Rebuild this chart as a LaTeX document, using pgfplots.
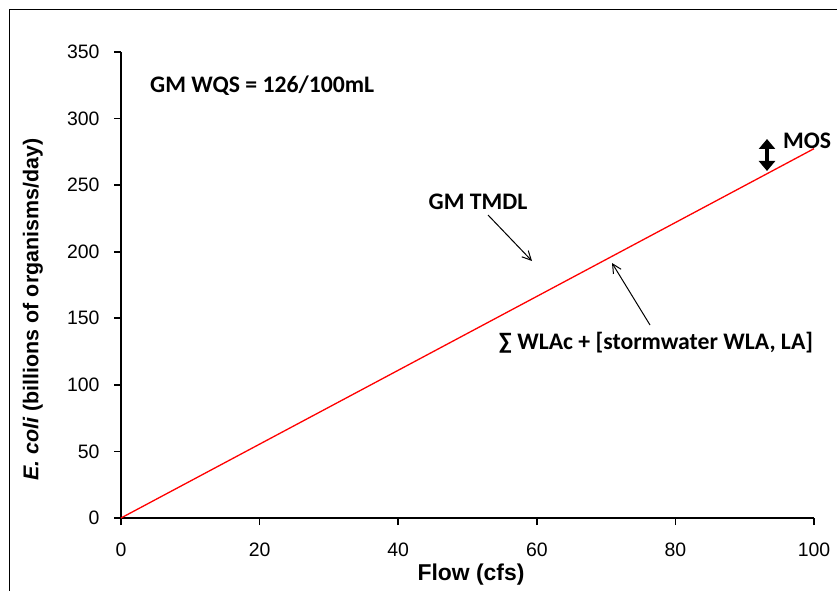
\documentclass[border=0pt]{standalone}
\usepackage{fontspec}
\setmainfont{Liberation Sans}
\newfontfamily\calib{Carlito}
\usepackage{pgfplots}
\pgfplotsset{compat=1.18}
\usetikzlibrary{arrows.meta}
\begin{document}
\begin{tikzpicture}[x=1bp,y=1bp]
\useasboundingbox (0,0) rectangle (837,-591);
\draw[line width=1.2bp] (9.5,-591) -- (9.5,-9.5) -- (837,-9.5);
\begin{axis}[
  at={(121bp,-518bp)}, anchor=origin,
  scale only axis, width=693bp, height=466bp,
  xmin=0, xmax=100, ymin=0, ymax=350,
  axis x line=bottom, axis y line=left,
  axis line style={-, line width=1.6bp},
  tick style={line width=1.6bp, black},
  tick align=outside, major tick length=7bp,
  xtick={0,20,...,100}, ytick={0,50,...,350},
  /pgf/number format/assume math mode=true,
  ticklabel style={font=\fontsize{19.5}{22}\selectfont},
  xticklabel style={yshift=-14bp},
  yticklabel style={xshift=-11bp},
  xlabel={\textbf{Flow (cfs)}},
  ylabel={\textbf{\textit{E. coli} (billions of organisms/day)}},
  xlabel style={font=\fontsize{23}{26}\selectfont, at={(axis description cs:0.505,0)}, anchor=center, yshift=-57bp},
  ylabel style={font=\fontsize{21.5}{24}\selectfont, at={(axis description cs:0,0.447)}, anchor=center, yshift=88bp},
  clip=false,
]
\addplot[red, line width=1.3bp] coordinates {(0,0) (100,277.4)};
\end{axis}
\begin{scope}[font=\calib\bfseries\fontsize{23.8}{27}\selectfont]
\node[anchor=west, inner sep=0pt] at (150,-86) {GM WQS = 126/100mL};
\node at (478,-202) {GM TMDL};
\node at (656,-343) {∑ WLAc + [stormwater WLA, LA]};
\node[anchor=west, inner sep=0pt] at (783,-141) {MOS};
\end{scope}
\draw[line width=1bp, -{Straight Barb[length=9bp,width=9bp]}] (488,-215) -- (532,-261);
\draw[line width=1bp, -{Straight Barb[length=9bp,width=9bp]}] (650,-325) -- (612,-263);
\draw[line width=4bp, {Triangle[length=10bp,width=16bp]}-{Triangle[length=10bp,width=16bp]}] (767,-139) -- (767,-171);
\end{tikzpicture}
\end{document}
